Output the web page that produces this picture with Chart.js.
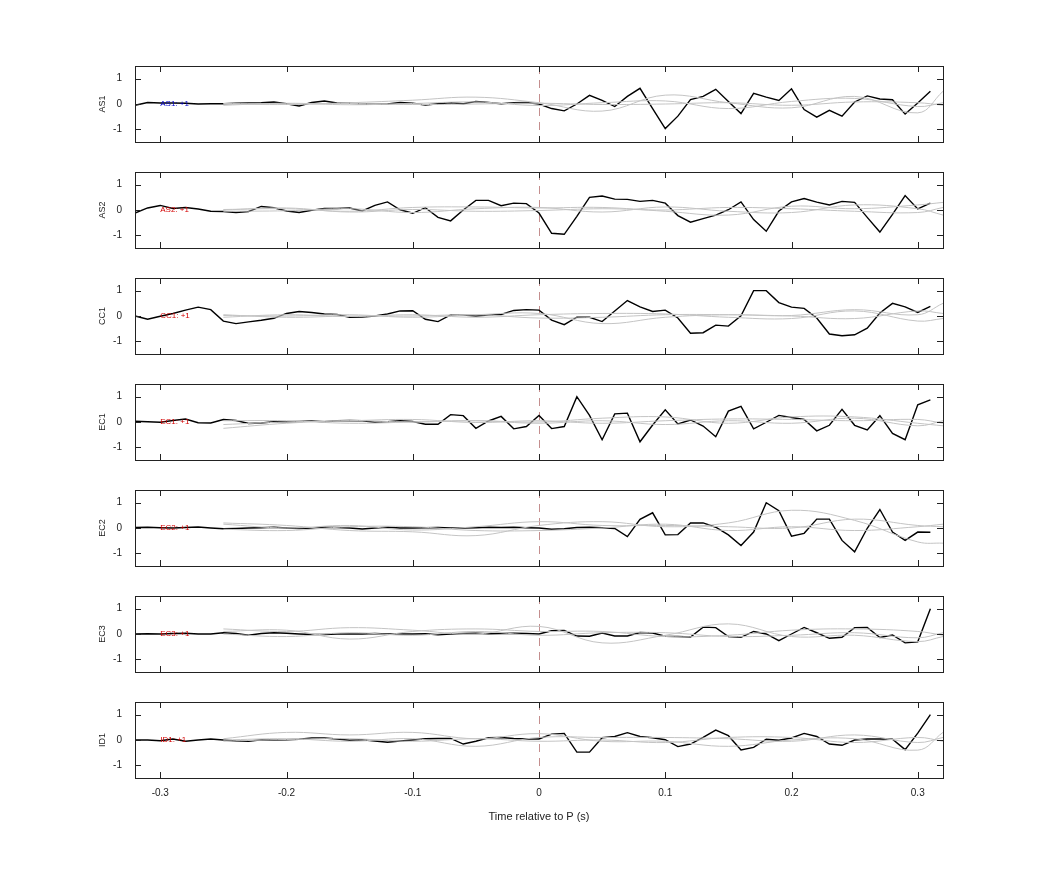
<!DOCTYPE html>
<html>
<head>
<meta charset="utf-8">
<script src="https://cdn.jsdelivr.net/npm/chart.js@4.4.1/dist/chart.umd.min.js"></script>
<style>
  body { margin: 0; background: #fff; width: 1042px; height: 875px; position: relative; overflow: hidden; }
  .panel { position: absolute; left: 97px; width: 863px; }
</style>
</head>
<body>
<div id="wrap"></div>
<script>
// --- DATA ---
const stations = ['AS1', 'AS2', 'CC1', 'EC1', 'EC2', 'EC3', 'ID1'];
const gainLabels = ['AS1: +1', 'AS2: +1', 'CC1: +1', 'EC1: +1', 'EC2: +1', 'EC3: +1', 'ID1: +1'];
const xTicks = [-0.3, -0.2, -0.1, 0, 0.1, 0.2, 0.3];
const yTicks = [-1, 0, 1];

// trace samples, -0.32 s .. 0.31 s every 0.01 s
const as1 = [-0.05,0.06,0.04,0.04,0.03,0,0.01,0.01,0.03,0.04,0.05,0.08,0.01,-0.08,0.06,0.12,0.04,0.03,0.01,-0.01,0,0.06,0.03,-0.04,0.01,0.05,0.01,0.1,0.06,0.01,0.05,0.06,0,
  -0.18,-0.27,0,0.34,0.14,-0.1,0.3,0.62,-0.18,-0.97,-0.48,0.17,0.3,0.58,0.1,-0.38,0.42,0.27,0.14,0.6,-0.22,-0.52,-0.25,-0.48,0.08,0.32,0.2,0.17,-0.4,0.04,0.5];
const as2 = [-0.12,0.08,0.18,0.06,0.1,0.04,-0.05,-0.06,-0.1,-0.06,0.14,0.09,-0.04,-0.1,-0.01,0.06,0.06,0.08,-0.04,0.18,0.32,0.01,-0.13,0.09,-0.29,-0.43,0,0.38,0.38,0.17,0.27,0.25,-0.12,
  -0.92,-0.96,-0.25,0.5,0.55,0.43,0.42,0.34,0.38,0.27,-0.22,-0.48,-0.34,-0.2,0.01,0.32,-0.38,-0.84,-0.04,0.32,0.45,0.31,0.2,0.34,0.3,-0.29,-0.87,-0.17,0.57,0.04,0.27];
const cc1 = [0,-0.13,-0.01,0.1,0.23,0.35,0.25,-0.2,-0.3,-0.23,-0.17,-0.09,0.1,0.18,0.14,0.08,0.06,-0.05,-0.04,0,0.08,0.2,0.21,-0.13,-0.22,0.04,0.04,0,0.04,0.06,0.22,0.25,0.23,
  -0.16,-0.34,-0.05,-0.05,-0.22,0.2,0.61,0.36,0.18,0.23,-0.08,-0.68,-0.66,-0.36,-0.4,0.01,1.0,1.0,0.53,0.35,0.3,-0.08,-0.71,-0.78,-0.74,-0.48,0.12,0.5,0.36,0.14,0.38];
const ec1 = [0.03,0.01,-0.01,0.06,0.12,-0.03,-0.04,0.1,0.06,-0.06,-0.04,0.01,0.01,0.02,0.04,0.01,0.05,0.06,0.05,-0.01,0.01,0.05,0.02,-0.09,-0.09,0.29,0.25,-0.25,0.04,0.22,-0.27,-0.18,0.26,
  -0.26,-0.18,1.0,0.26,-0.7,0.32,0.35,-0.78,-0.12,0.48,-0.08,0.08,-0.16,-0.58,0.43,0.62,-0.27,-0.01,0.26,0.18,0.1,-0.35,-0.13,0.5,-0.13,-0.31,0.25,-0.45,-0.7,0.68,0.87];
const ec2 = [0.02,0.03,0.01,0,0.02,0.04,0,-0.03,-0.02,0,0.01,0.03,0,-0.02,0,0.03,0.02,0,-0.04,0,0.03,0,0,0.01,0.02,0,0,0.01,0.03,0.02,0.03,0.01,0,
  -0.05,-0.03,0.02,0.03,0.01,-0.02,-0.34,0.34,0.6,-0.27,-0.26,0.2,0.2,0.03,-0.27,-0.69,-0.16,1.0,0.68,-0.32,-0.21,0.35,0.35,-0.49,-0.94,-0.01,0.73,-0.16,-0.49,-0.16,-0.17];
const ec3 = [0,0.01,0,0.02,0.03,0,0,0.05,0.02,-0.05,0.02,0.05,0.03,0,-0.02,-0.02,0,0,0,0.02,0,0,0,0.01,-0.03,0,0.02,0.03,0.01,0.02,0.03,0.02,0,
  0.13,0.14,-0.08,-0.09,0.04,-0.08,-0.08,0.06,0.04,-0.09,-0.1,-0.12,0.27,0.25,-0.1,-0.13,0.1,0,-0.26,0,0.26,0.05,-0.17,-0.13,0.25,0.26,-0.14,-0.04,-0.35,-0.31,1.0];
const id1 = [0,0,-0.03,0.04,-0.05,0,0.04,0,-0.04,-0.05,0.01,0,0.01,0.03,0.08,0.08,0.04,-0.01,0.01,-0.04,-0.09,-0.04,0,0.05,0.06,0.06,-0.16,-0.05,0.09,0.1,0.06,0.04,0.04,
  0.23,0.26,-0.48,-0.48,0.09,0.14,0.29,0.14,0.09,0.01,-0.26,-0.16,0.1,0.39,0.17,-0.39,-0.29,0.03,-0.01,0.08,0.26,0.14,-0.16,-0.21,0,0.04,0.04,0.03,-0.38,0.27,1.0];

// grey synthetic curves, sampled at greyT
const greyT = [-0.25,-0.2,-0.15,-0.1,-0.05,0,0.05,0.1,0.15,0.2,0.25,0.3,0.32];
const as1Grey = [[0,-0.02,0.05,0.15,0.27,0.05,-0.28,0.35,0.05,-0.15,0.3,-0.35,0.5],
                 [-0.05,0.03,-0.03,0.02,0.08,-0.06,0.05,0.12,-0.18,0.1,0.22,-0.1,0.05],
                 [0.02,0,0.02,-0.02,0,0.03,-0.02,0,0.05,-0.05,0.08,0.05,-0.05]];
const as2Grey = [[0.02,0.05,-0.05,0.1,0.12,0.08,0.1,-0.05,-0.2,0.15,0.05,0.2,0.3],
                 [-0.05,-0.03,0.05,-0.1,0.05,0.1,-0.08,0.12,-0.05,-0.1,0.2,0.05,-0.2],
                 [0,0.08,-0.08,0.02,-0.05,-0.02,0.05,0,0.1,0.05,-0.05,-0.1,0.1]];
const cc1Grey = [[0.02,0,0.05,-0.05,0.05,0.1,-0.3,-0.05,0.05,0.02,0.25,0.05,0.5],
                 [-0.05,0.05,-0.02,0.05,-0.05,0.05,0.1,0.08,-0.05,-0.1,0.2,-0.2,-0.1],
                 [0.05,-0.05,0,0,0.05,-0.08,-0.05,0.05,0.05,0,-0.1,0.2,0.1]];
const ec1Grey = [[-0.25,-0.05,0.05,0,0.05,0,0.15,0.2,-0.05,0.2,0.2,-0.05,-0.15],
                 [-0.1,0,0.05,0.1,-0.02,0.05,-0.05,0.05,0.12,0.1,0.05,0.1,-0.05],
                 [0.05,0.05,-0.05,0,0.05,-0.05,0.05,-0.1,0.05,-0.05,0.15,-0.15,0.05]];
const ec2Grey = [[0.2,0.1,-0.1,-0.15,-0.3,0.1,0.25,0.05,0.2,0.7,0.3,-0.55,-0.6],
                 [0.15,0,0.1,-0.08,0.05,0.25,0.1,0.1,0.05,0.0,0.35,0.1,0.05],
                 [-0.05,-0.1,0.05,0.05,-0.1,-0.1,0,0.15,-0.1,0.05,-0.1,0.05,0.15]];
const ec3Grey = [[0.2,0.1,0.25,0.15,0,0.3,-0.35,-0.05,0.4,-0.1,-0.05,-0.3,-0.1],
                 [0.1,0.15,-0.2,0.1,0.2,0.1,0.1,-0.1,-0.05,0.15,0.2,0.1,-0.05],
                 [0,-0.1,0.05,-0.05,0.1,-0.05,0.05,0.05,-0.1,-0.05,0.05,-0.15,0.05]];
const id1Grey = [[0.05,0.3,0.2,0.3,0.05,0.25,-0.05,-0.05,-0.25,0,0.05,-0.4,0.3],
                 [0,0.05,-0.05,0.05,-0.25,0.1,0.1,0.1,0.05,-0.05,0.2,-0.1,0.1],
                 [-0.05,0.02,0.05,-0.05,0.05,-0.05,0,-0.1,0.1,0.1,-0.1,0.1,-0.05]];

const traces = [as1, as2, cc1, ec1, ec2, ec3, id1];
const greys = [as1Grey, as2Grey, cc1Grey, ec1Grey, ec2Grey, ec3Grey, id1Grey];
const times = as1.map((_, i) => +(-0.32 + i * 0.01).toFixed(2));

// --- PLUGIN: box, inward ticks, P line, gain label ---
const framePlugin = {
  id: 'frame',
  beforeDatasetsDraw(chart) {
    const { ctx, chartArea: a, scales: { x } } = chart;
    ctx.save();
    ctx.strokeStyle = 'rgba(190,130,130,0.9)';
    ctx.lineWidth = 1;
    ctx.setLineDash([8, 6]);
    const px = Math.round(x.getPixelForValue(0)) + 0.5;
    ctx.beginPath(); ctx.moveTo(px, a.top); ctx.lineTo(px, a.bottom); ctx.stroke();
    ctx.restore();
  },
  afterDatasetsDraw(chart, args, opts) {
    const { ctx, chartArea: a, scales: { x, y } } = chart;
    ctx.save();
    ctx.strokeStyle = '#222';
    ctx.lineWidth = 1;
    ctx.strokeRect(a.left + 0.5, a.top + 0.5, a.width, a.height);
    ctx.beginPath();
    xTicks.forEach(t => {
      const px = Math.round(x.getPixelForValue(t)) + 0.5;
      ctx.moveTo(px, a.top); ctx.lineTo(px, a.top + 6);
      ctx.moveTo(px, a.bottom); ctx.lineTo(px, a.bottom - 6);
    });
    yTicks.forEach(t => {
      const py = Math.round(y.getPixelForValue(t)) + 0.5;
      ctx.moveTo(a.left, py); ctx.lineTo(a.left + 6, py);
      ctx.moveTo(a.right, py); ctx.lineTo(a.right - 6, py);
    });
    ctx.stroke();
    ctx.font = '8px "Liberation Sans", Arial, sans-serif';
    ctx.fillStyle = opts.color;
    ctx.textBaseline = 'middle';
    ctx.fillText(opts.text, x.getPixelForValue(-0.3), y.getPixelForValue(0));
    ctx.restore();
  }
};

const TOP_OFF = 11;
const wrap = document.getElementById('wrap');
stations.forEach((name, k) => {
  const last = k === stations.length - 1;
  const div = document.createElement('div');
  div.className = 'panel';
  div.style.top = (66 + 106 * k - TOP_OFF) + 'px';
  div.style.height = (76 + TOP_OFF + (last ? 50 : 11)) + 'px';
  const cv = document.createElement('canvas');
  div.appendChild(cv);
  wrap.appendChild(div);

  const datasets = greys[k].map(g => ({
    data: greyT.map((t, i) => ({ x: t, y: g[i] })),
    borderColor: '#c4c4c4', borderWidth: 1, tension: 0.4
  }));
  datasets.push({
    data: times.map((t, i) => ({ x: t, y: traces[k][i] })),
    borderColor: '#000', borderWidth: 1.4, tension: 0
  });

  new Chart(cv, {
    type: 'scatter',
    data: { datasets: datasets.map(d => ({ ...d, showLine: true, pointRadius: 0 })) },
    options: {
      responsive: true, maintainAspectRatio: false, animation: false,
      layout: { padding: { top: 2, right: 17, bottom: last ? 0 : 2, left: 0 } },
      plugins: {
        legend: { display: false }, tooltip: { enabled: false },
        frame: { text: gainLabels[k], color: k === 0 ? '#0000cc' : '#d40000' }
      },
      scales: {
        x: {
          type: 'linear', min: -0.32, max: 0.32,
          display: last,
          grid: { display: false },
          border: { display: false },
          afterBuildTicks: s => { s.ticks = xTicks.map(v => ({ value: v })); },
          afterFit: s => { if (last) s.height = 50; },
          ticks: { color: '#222', font: { size: 10, family: 'Liberation Sans' }, padding: 1 },
          title: { display: true, text: 'Time relative to P (s)', color: '#222', font: { size: 11, family: 'Liberation Sans' }, padding: { top: 4 } }
        },
        y: {
          min: -1.5, max: 1.5,
          grid: { display: false },
          border: { display: false },
          afterBuildTicks: s => { s.ticks = yTicks.map(v => ({ value: v })); },
          afterFit: s => { s.width = 38; },
          ticks: { color: '#222', font: { size: 10, family: 'Liberation Sans' }, padding: 5 },
          title: { display: true, text: name, color: '#222', font: { size: 9, family: 'Liberation Sans' }, padding: 0 }
        }
      }
    },
    plugins: [framePlugin]
  });
});
</script>
</body>
</html>
